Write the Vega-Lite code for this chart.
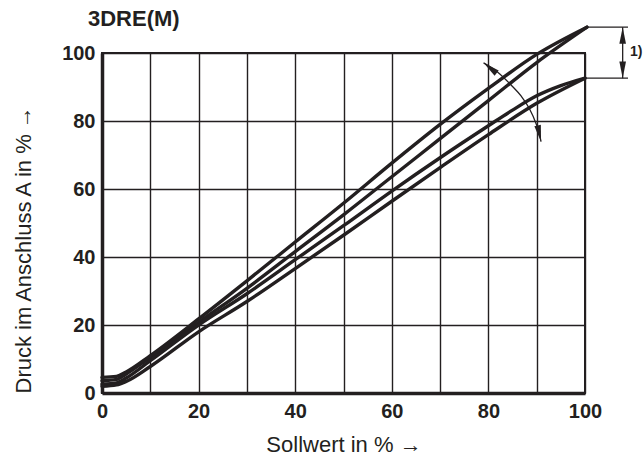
{
  "$schema": "https://vega.github.io/schema/vega-lite/v6.json",
  "width": 483,
  "height": 340,
  "autosize": "none",
  "padding": {"left": 102, "top": 53, "right": 58, "bottom": 70},
  "background": "white",
  "config": {
    "font": "Liberation Sans",
    "view": {"stroke": "#231f20", "strokeWidth": 2},
    "axis": {
      "grid": true,
      "gridColor": "#231f20",
      "gridOpacity": 1,
      "gridWidth": 1.4,
      "ticks": false,
      "domainColor": "#231f20",
      "domainWidth": 3.5,
      "labelFont": "Liberation Sans",
      "labelFontWeight": "bold",
      "labelFontSize": 20,
      "labelColor": "#231f20",
      "titleFont": "Liberation Sans",
      "titleFontWeight": "normal",
      "titleFontSize": 22,
      "titleColor": "#231f20"
    },
    "title": {"font": "Liberation Sans", "fontSize": 22, "fontWeight": "bold", "color": "#231f20", "anchor": "start", "frame": "group", "offset": -6, "dx": -14, "dy": 5}
  },
  "title": {"text": "3DRE(M)"},
  "datasets": {
    "curves": [
      {"s": "a", "x": 0, "y": 4.6}, {"s": "a", "x": 3, "y": 4.9}, {"s": "a", "x": 5, "y": 6.2}, {"s": "a", "x": 10, "y": 11}, {"s": "a", "x": 20, "y": 21.8}, {"s": "a", "x": 30, "y": 33}, {"s": "a", "x": 40, "y": 44.4}, {"s": "a", "x": 50, "y": 55.8}, {"s": "a", "x": 60, "y": 67.6}, {"s": "a", "x": 70, "y": 79}, {"s": "a", "x": 80, "y": 89.6}, {"s": "a", "x": 90, "y": 99.6}, {"s": "a", "x": 100.4, "y": 107.6},
      {"s": "b", "x": 0, "y": 3.6}, {"s": "b", "x": 3, "y": 4}, {"s": "b", "x": 5, "y": 5.6}, {"s": "b", "x": 10, "y": 10.5}, {"s": "b", "x": 20, "y": 20.8}, {"s": "b", "x": 30, "y": 30.8}, {"s": "b", "x": 40, "y": 41.6}, {"s": "b", "x": 50, "y": 52.4}, {"s": "b", "x": 60, "y": 63.6}, {"s": "b", "x": 70, "y": 74.8}, {"s": "b", "x": 80, "y": 86}, {"s": "b", "x": 90, "y": 97.2}, {"s": "b", "x": 100.4, "y": 107.6},
      {"s": "c", "x": 0, "y": 2.6}, {"s": "c", "x": 3, "y": 3}, {"s": "c", "x": 5, "y": 4.4}, {"s": "c", "x": 10, "y": 9.5}, {"s": "c", "x": 20, "y": 20}, {"s": "c", "x": 30, "y": 29.2}, {"s": "c", "x": 40, "y": 39.2}, {"s": "c", "x": 50, "y": 49.2}, {"s": "c", "x": 60, "y": 59.4}, {"s": "c", "x": 70, "y": 69.2}, {"s": "c", "x": 80, "y": 78.6}, {"s": "c", "x": 85, "y": 83.2}, {"s": "c", "x": 90, "y": 87.4}, {"s": "c", "x": 95, "y": 90.4}, {"s": "c", "x": 100, "y": 92.6},
      {"s": "d", "x": 0, "y": 2}, {"s": "d", "x": 3, "y": 2.4}, {"s": "d", "x": 5, "y": 3.4}, {"s": "d", "x": 10, "y": 7.8}, {"s": "d", "x": 20, "y": 18}, {"s": "d", "x": 30, "y": 26.9}, {"s": "d", "x": 40, "y": 36.6}, {"s": "d", "x": 50, "y": 46.4}, {"s": "d", "x": 60, "y": 56.4}, {"s": "d", "x": 70, "y": 66.3}, {"s": "d", "x": 80, "y": 76}, {"s": "d", "x": 90, "y": 85.2}, {"s": "d", "x": 100, "y": 92.6}
    ],
    "arc": [
      {"x": 79.0, "y": 97.1}, {"x": 82.0, "y": 94.3}, {"x": 84.7, "y": 90.6}, {"x": 86.8, "y": 87.3}, {"x": 88.5, "y": 83.6}, {"x": 89.8, "y": 79.5}, {"x": 90.6, "y": 76.0}, {"x": 90.9, "y": 73.9}
    ],
    "heads": [
      {"x": 79.0, "y": 97.1, "a": 308},
      {"x": 90.9, "y": 73.9, "a": 168},
      {"x": 107.8, "y": 107.6, "a": 0},
      {"x": 107.8, "y": 92.6, "a": 180}
    ],
    "hlines": [
      {"x": 100.4, "x2": 108.9, "y": 107.6},
      {"x": 100, "x2": 108.9, "y": 92.6}
    ],
    "vline": [
      {"x": 107.8, "y": 107.6, "y2": 92.6}
    ],
    "note": [
      {"x": 109.3, "y": 100.3, "t": "1)"}
    ]
  },
  "layer": [
    {
      "data": {"name": "curves"},
      "mark": {"type": "line", "interpolate": "monotone", "color": "#231f20", "strokeWidth": 3.4, "strokeCap": "round"},
      "encoding": {
        "x": {"field": "x", "type": "quantitative", "scale": {"domain": [0, 100], "nice": false},
          "axis": {"values": [0, 10, 20, 30, 40, 50, 60, 70, 80, 90, 100], "labelExpr": "datum.value % 20 === 0 ? datum.label : ''", "labelPadding": 8, "title": "Sollwert in % →", "titlePadding": 13, "labelFlush": false}},
        "y": {"field": "y", "type": "quantitative", "scale": {"domain": [0, 100], "nice": false},
          "axis": {"values": [0, 10, 20, 30, 40, 50, 60, 70, 80, 90, 100], "labelExpr": "datum.value % 20 === 0 ? datum.label : ''", "labelPadding": 7, "title": "Druck im Anschluss A in % →", "titleAnchor": "start", "titlePadding": 26, "labelFlush": false}},
        "detail": {"field": "s"}
      }
    },
    {
      "data": {"name": "arc"},
      "mark": {"type": "line", "interpolate": "monotone", "color": "#231f20", "strokeWidth": 1.3},
      "encoding": {
        "x": {"field": "x", "type": "quantitative"},
        "y": {"field": "y", "type": "quantitative"}
      }
    },
    {
      "data": {"name": "hlines"},
      "mark": {"type": "rule", "color": "#231f20", "strokeWidth": 1.3},
      "encoding": {
        "x": {"field": "x", "type": "quantitative"},
        "x2": {"field": "x2"},
        "y": {"field": "y", "type": "quantitative"}
      }
    },
    {
      "data": {"name": "vline"},
      "mark": {"type": "rule", "color": "#231f20", "strokeWidth": 1.3},
      "encoding": {
        "x": {"field": "x", "type": "quantitative"},
        "y": {"field": "y", "type": "quantitative"},
        "y2": {"field": "y2"}
      }
    },
    {
      "data": {"name": "heads"},
      "mark": {"type": "point", "shape": "M0,0L0.2,1L-0.2,1Z", "filled": true, "color": "#231f20", "opacity": 1, "size": 1100},
      "encoding": {
        "x": {"field": "x", "type": "quantitative"},
        "y": {"field": "y", "type": "quantitative"},
        "angle": {"field": "a", "type": "quantitative", "scale": null}
      }
    },
    {
      "data": {"name": "note"},
      "mark": {"type": "text", "font": "Liberation Sans", "fontWeight": "bold", "fontSize": 14, "color": "#231f20", "align": "left", "baseline": "middle"},
      "encoding": {
        "x": {"field": "x", "type": "quantitative"},
        "y": {"field": "y", "type": "quantitative"},
        "text": {"field": "t"}
      }
    }
  ]
}
